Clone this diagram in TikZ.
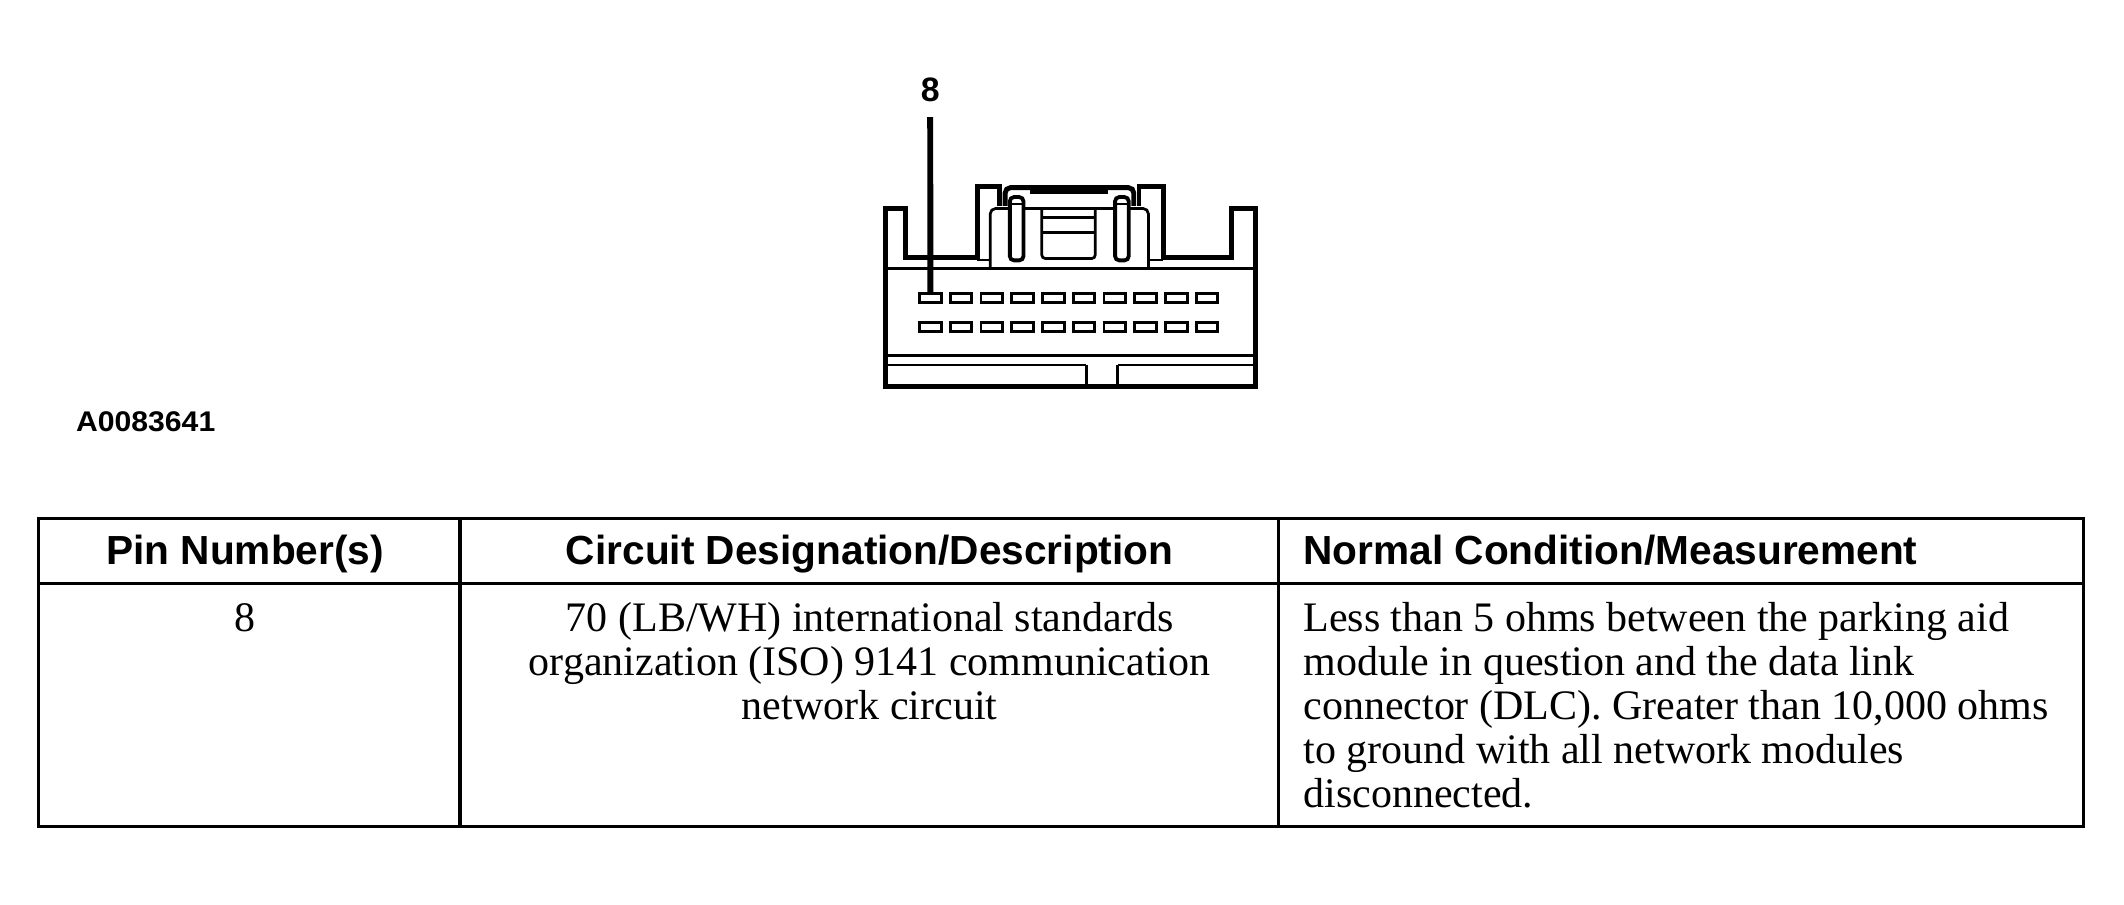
\documentclass[tikz,border=0pt]{standalone}
\usepackage{fontspec}
\setmainfont{Liberation Serif}
\setsansfont{Liberation Sans}
\newcommand\myhdr{\sffamily\bfseries\fontsize{30}{32}\selectfont}
\newcommand\mybody{\rmfamily\fontsize{31}{32.5}\selectfont}
\tikzset{
  outl/.style={line width=3.6pt, line join=miter},
  inl/.style={line width=2pt},
  midl/.style={line width=2.4pt},
  pinbox/.style={draw, line width=2.2pt, minimum width=16pt, minimum height=6.6pt, inner sep=0pt},
  leader/.style={line width=4.4pt},
  tbl/.style={line width=2.4pt},
  tbldiv/.style={line width=2.3pt},
  hdr/.style={font=\myhdr, inner sep=0pt},
  bod/.style={font=\mybody, inner sep=0pt},
}
\begin{document}
\begin{tikzpicture}[x=1pt,y=-1pt]
\useasboundingbox (0,0) rectangle (1568,667.4);
% ---------- connector ----------
\draw[outl] (738,152) -- (738,137.9) -- (721.5,137.9) -- (721.5,190.3) -- (668.2,190.3) -- (668.2,153.9) -- (653.5,153.9) -- (653.5,285.5) -- (926.6,285.5) -- (926.6,153.9) -- (909.4,153.9) -- (909.4,190.3) -- (858.9,190.3) -- (858.9,137.9) -- (840.8,137.9) -- (840.8,152);
\draw[inl, rounded corners=4pt] (731,198.2) -- (731,153.9) -- (847.8,153.9) -- (847.8,198.2);
\draw[outl, rounded corners=4pt] (742,152) -- (742,138.5) -- (837,138.5) -- (837,152);
\draw[line width=5pt] (760,140.5) -- (818,140.5);
\draw[inl, rounded corners=2.5pt] (769.1,153.9) -- (769.1,190.8) -- (808.5,190.8) -- (808.5,153.9);
\draw[inl] (769.1,160.8) -- (808.5,160.8);
\draw[inl] (769.1,171.8) -- (808.5,171.8);
\draw[line width=2.8pt, fill=white, rounded corners=3pt] (745.5,145.5) rectangle (755.5,192.2);
\draw[line width=2.8pt, fill=white, rounded corners=3pt] (823.2,145.5) rectangle (833.2,192.2);
\draw[inl] (744.5,150.5) -- (756.5,150.5);
\draw[inl] (822.2,150.5) -- (834.2,150.5);
\draw[inl] (653.5,198.2) -- (926.6,198.2);
\draw[inl] (721.5,192) -- (731,192);
\draw[inl] (847.8,192) -- (858.9,192);
\draw[midl] (653.5,262.6) -- (926.6,262.6);
\draw[inl] (653.5,269.5) -- (801.8,269.5);
\draw[midl] (801.8,269.5) -- (801.8,285.5);
\draw[inl] (926.6,269.5) -- (825,269.5);
\draw[midl] (825,269.5) -- (825,285.5);
\foreach \i in {1,...,10}{
  \node[pinbox] (pT\i) at ({686.8+22.7*(\i-1)},220.1) {};
  \node[pinbox] (pB\i) at ({686.8+22.7*(\i-1)},241.4) {};
}
\node[font=\sffamily\bfseries\fontsize{25}{25}\selectfont, inner sep=0pt, anchor=base] (lab8) at (686.7,75) {8};
\draw[leader, shorten <=11pt] (lab8.south) -- (pT1.north);
% ---------- figure id ----------
\node[font=\sffamily\bfseries\fontsize{21}{21}\selectfont, inner sep=0pt, anchor=base west, xscale=1.06] (figid) at (56,318.7) {A0083641};
% ---------- table ----------
\draw[tbl] (28.3,382.6) rectangle (1538,610);
\draw[tbl] (28.3,430.5) -- (1538,430.5);
\draw[tbldiv] (339.6,382.6) -- (339.6,610);
\draw[tbldiv] (944,382.6) -- (944,610);
\node[hdr, anchor=base] (h1) at (181,417) {Pin Number(s)};
\node[hdr, anchor=base] (h2) at (642,417) {Circuit Designation/Description};
\node[hdr, anchor=base west] (h3) at (962,417) {Normal Condition/Measurement};
\node[bod, anchor=base] (r1) at (181,466) {8};
\node[bod, anchor=base] (r2a) at (642,466) {70 (LB/WH) international standards};
\node[bod, anchor=base] (r2b) at (642,498.5) {organization (ISO) 9141 communication};
\node[bod, anchor=base] (r2c) at (642,531) {network circuit};
\node[bod, anchor=base west] (r3a) at (962,466) {Less than 5 ohms between the parking aid};
\node[bod, anchor=base west] (r3b) at (962,498.5) {module in question and the data link};
\node[bod, anchor=base west] (r3c) at (962,531) {connector (DLC). Greater than 10,000 ohms};
\node[bod, anchor=base west] (r3d) at (962,563.5) {to ground with all network modules};
\node[bod, anchor=base west] (r3e) at (962,596) {disconnected.};
\end{tikzpicture}
\end{document}
